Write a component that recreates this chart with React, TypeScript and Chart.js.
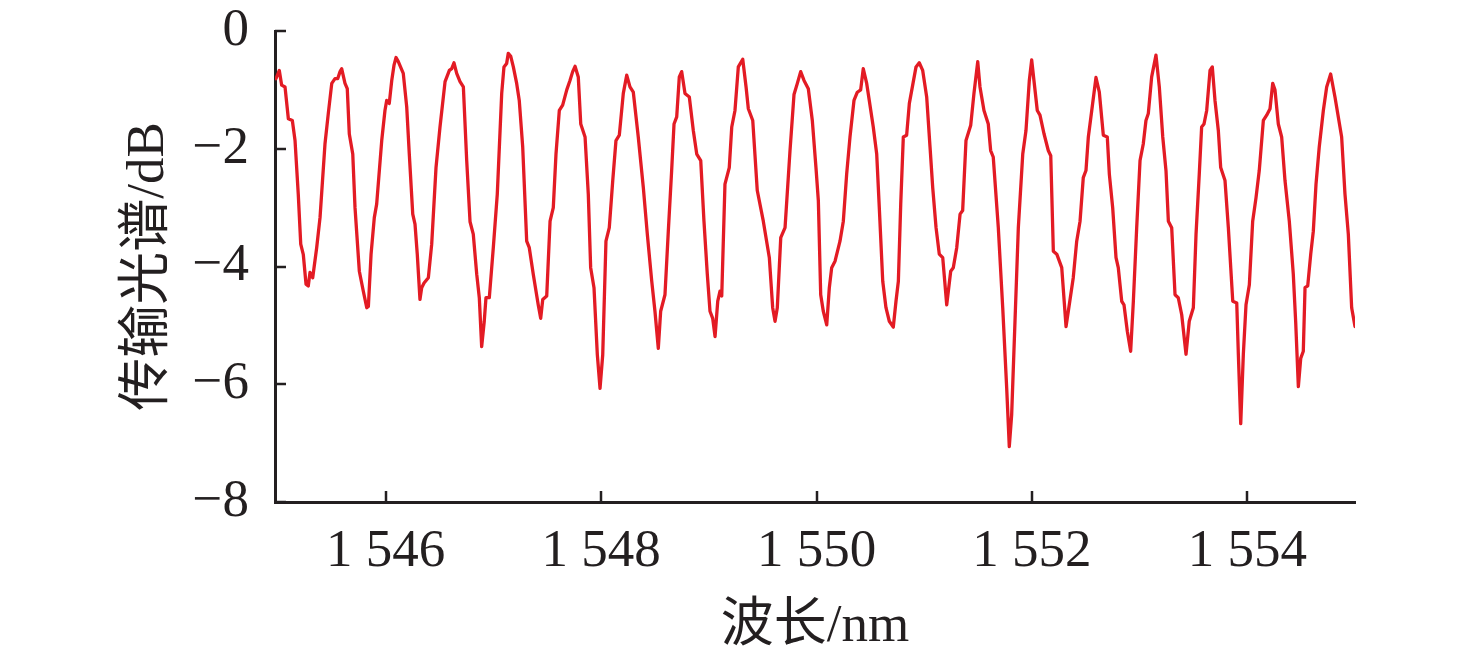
import { useEffect, useRef } from "react";
import { Chart, registerables } from "chart.js";

Chart.register(...registerables);

// Wavelength (nm) of each sample
const wavelengths = [
  1544.981, 1545.012, 1545.034, 1545.065, 1545.096, 1545.133, 1545.158, 1545.188, 1545.211, 1545.235,
  1545.260, 1545.281, 1545.297, 1545.322, 1545.359, 1545.390, 1545.436, 1545.467, 1545.499, 1545.529,
  1545.554, 1545.576, 1545.591, 1545.622, 1545.643, 1545.662, 1545.694, 1545.715, 1545.755, 1545.792,
  1545.824, 1545.839, 1545.864, 1545.894, 1545.916, 1545.963, 1545.993, 1546.009, 1546.033, 1546.056,
  1546.077, 1546.096, 1546.117, 1546.163, 1546.195, 1546.219, 1546.251, 1546.272, 1546.293, 1546.318,
  1546.334, 1546.356, 1546.396, 1546.427, 1546.467, 1546.504, 1546.551, 1546.591, 1546.613, 1546.634,
  1546.659, 1546.690, 1546.721, 1546.752, 1546.783, 1546.813, 1546.845, 1546.869, 1546.891, 1546.915,
  1546.931, 1546.962, 1546.999, 1547.036, 1547.077, 1547.098, 1547.123, 1547.138, 1547.161, 1547.185,
  1547.216, 1547.240, 1547.272, 1547.309, 1547.333, 1547.370, 1547.416, 1547.439, 1547.458, 1547.495,
  1547.526, 1547.556, 1547.581, 1547.612, 1547.643, 1547.681, 1547.711, 1547.736, 1547.758, 1547.788,
  1547.811, 1547.851, 1547.881, 1547.903, 1547.934, 1547.965, 1547.990, 1548.015, 1548.045, 1548.076,
  1548.108, 1548.138, 1548.169, 1548.206, 1548.238, 1548.268, 1548.299, 1548.345, 1548.392, 1548.429,
  1548.470, 1548.500, 1548.531, 1548.553, 1548.593, 1548.624, 1548.655, 1548.677, 1548.702, 1548.726,
  1548.748, 1548.779, 1548.819, 1548.856, 1548.888, 1548.925, 1548.955, 1548.986, 1549.011, 1549.036,
  1549.058, 1549.083, 1549.104, 1549.120, 1549.150, 1549.190, 1549.213, 1549.243, 1549.274, 1549.315,
  1549.346, 1549.367, 1549.408, 1549.450, 1549.506, 1549.562, 1549.593, 1549.615, 1549.636, 1549.668,
  1549.708, 1549.754, 1549.791, 1549.822, 1549.853, 1549.884, 1549.924, 1549.961, 1549.995, 1550.017,
  1550.039, 1550.063, 1550.095, 1550.119, 1550.141, 1550.172, 1550.218, 1550.249, 1550.280, 1550.311,
  1550.348, 1550.379, 1550.410, 1550.434, 1550.466, 1550.490, 1550.527, 1550.559, 1550.583, 1550.615,
  1550.645, 1550.676, 1550.713, 1550.738, 1550.760, 1550.782, 1550.806, 1550.837, 1550.862, 1550.893,
  1550.924, 1550.954, 1550.986, 1551.023, 1551.054, 1551.079, 1551.110, 1551.140, 1551.172, 1551.209,
  1551.246, 1551.270, 1551.302, 1551.333, 1551.357, 1551.388, 1551.432, 1551.462, 1551.497, 1551.518,
  1551.555, 1551.595, 1551.617, 1551.641, 1551.688, 1551.729, 1551.766, 1551.790, 1551.812, 1551.843,
  1551.874, 1551.915, 1551.945, 1551.976, 1551.998, 1552.019, 1552.050, 1552.075, 1552.113, 1552.152,
  1552.175, 1552.199, 1552.231, 1552.277, 1552.317, 1552.347, 1552.384, 1552.416, 1552.447, 1552.477,
  1552.502, 1552.524, 1552.564, 1552.595, 1552.626, 1552.663, 1552.700, 1552.719, 1552.750, 1552.781,
  1552.802, 1552.834, 1552.855, 1552.886, 1552.917, 1552.942, 1552.973, 1553.004, 1553.034, 1553.059,
  1553.081, 1553.112, 1553.152, 1553.183, 1553.215, 1553.245, 1553.267, 1553.298, 1553.329, 1553.359,
  1553.391, 1553.431, 1553.461, 1553.499, 1553.524, 1553.554, 1553.576, 1553.598, 1553.623, 1553.654,
  1553.675, 1553.700, 1553.731, 1553.753, 1553.793, 1553.824, 1553.865, 1553.902, 1553.917, 1553.939,
  1553.963, 1553.988, 1554.019, 1554.050, 1554.081, 1554.111, 1554.149, 1554.180, 1554.211, 1554.236,
  1554.257, 1554.288, 1554.319, 1554.350, 1554.390, 1554.427, 1554.449, 1554.474, 1554.496, 1554.520,
  1554.536, 1554.561, 1554.589, 1554.613, 1554.638, 1554.668, 1554.706, 1554.737, 1554.774, 1554.814,
  1554.845, 1554.876, 1554.907, 1554.938, 1554.969, 1555.000,
];

// Transmission spectrum (dB) at each wavelength
const transmission = [
  -0.81, -0.67, -0.92, -0.95, -1.49, -1.52, -1.86, -2.77, -3.62, -3.80,
  -4.30, -4.33, -4.10, -4.19, -3.68, -3.17, -1.92, -1.40, -0.89, -0.81,
  -0.81, -0.69, -0.64, -0.89, -0.98, -1.75, -2.09, -3.00, -4.08, -4.42,
  -4.70, -4.68, -3.79, -3.17, -2.94, -1.86, -1.35, -1.18, -1.23, -0.84,
  -0.58, -0.45, -0.52, -0.72, -1.29, -2.09, -3.11, -3.28, -3.79, -4.56,
  -4.36, -4.28, -4.19, -3.62, -2.32, -1.63, -0.86, -0.67, -0.64, -0.54,
  -0.72, -0.86, -0.95, -2.20, -3.24, -3.45, -4.13, -4.53, -5.36, -4.93,
  -4.53, -4.53, -3.68, -2.77, -1.06, -0.61, -0.55, -0.38, -0.43, -0.61,
  -0.89, -1.18, -1.97, -3.57, -3.68, -4.13, -4.65, -4.88, -4.56, -4.50,
  -3.23, -3.00, -2.09, -1.35, -1.26, -1.00, -0.84, -0.69, -0.60, -0.78,
  -1.58, -1.80, -2.77, -4.02, -4.36, -5.50, -6.07, -5.50, -3.57, -3.34,
  -2.54, -1.86, -1.77, -1.06, -0.75, -0.95, -1.04, -1.80, -2.66, -3.45,
  -4.25, -4.76, -5.39, -4.76, -4.48, -3.40, -2.37, -1.58, -1.46, -0.78,
  -0.69, -1.06, -1.12, -1.69, -2.09, -2.20, -3.23, -4.13, -4.76, -4.88,
  -5.19, -4.59, -4.42, -4.50, -2.60, -2.32, -1.63, -1.35, -0.61, -0.48,
  -0.95, -1.32, -1.52, -2.71, -3.23, -3.85, -4.70, -4.93, -4.70, -3.51,
  -3.34, -2.03, -1.08, -0.89, -0.69, -0.84, -0.98, -1.52, -2.32, -2.88,
  -4.48, -4.76, -4.99, -4.36, -4.02, -3.91, -3.57, -3.23, -2.43, -1.80,
  -1.18, -1.04, -1.00, -0.64, -0.89, -1.18, -1.63, -2.09, -3.00, -4.25,
  -4.70, -4.93, -5.03, -4.59, -4.25, -2.94, -1.80, -1.77, -1.23, -0.92,
  -0.61, -0.54, -0.67, -1.12, -1.97, -2.66, -3.34, -3.79, -3.85, -4.65,
  -4.08, -4.02, -3.68, -3.11, -3.05, -1.86, -1.60, -1.06, -0.52, -0.95,
  -1.35, -1.58, -2.03, -2.14, -3.34, -4.70, -6.07, -7.06, -6.52, -4.93,
  -3.34, -2.09, -1.69, -0.84, -0.49, -0.84, -1.35, -1.43, -1.75, -2.03,
  -2.12, -3.74, -3.79, -4.02, -5.02, -4.65, -4.19, -3.57, -3.23, -2.49,
  -2.37, -1.80, -1.23, -0.79, -1.04, -1.77, -1.80, -2.43, -3.00, -3.85,
  -4.02, -4.59, -4.65, -5.10, -5.44, -4.59, -3.34, -2.20, -1.92, -1.52,
  -1.40, -0.78, -0.41, -0.95, -1.80, -2.37, -3.23, -3.34, -4.48, -4.53,
  -4.82, -5.49, -4.93, -4.70, -3.45, -2.43, -1.63, -1.58, -1.35, -0.67,
  -0.61, -1.18, -1.69, -2.32, -2.54, -3.34, -4.59, -4.62, -5.50, -6.67,
  -5.50, -4.65, -4.31, -3.23, -2.83, -2.37, -1.52, -1.43, -1.32, -0.89,
  -1.00, -1.58, -1.80, -2.54, -3.23, -4.13, -4.93, -6.04, -5.56, -5.44,
  -4.36, -4.33, -3.79, -3.40, -2.60, -1.97, -1.35, -0.95, -0.73, -1.12,
  -1.46, -1.80, -2.77, -3.45, -4.70, -5.02,
];

const xTicks = [1546, 1548, 1550, 1552, 1554];
const yTicks = [0, -2, -4, -6, -8];
const xRange = [1544.972, 1555.0];
const yRange = [-8, 0];
const xTitle = "波长/nm";
const yTitle = "传输光谱/dB";

const AXIS_COLOR = "#231f20";
const LINE_COLOR = "#e31b24";
const FONT = "'Liberation Serif', 'Times New Roman', 'Noto Sans CJK SC', serif";

const fmtX = (v: number) => {
  const s = String(v);
  return s.slice(0, 1) + " " + s.slice(1);
};
const fmtY = (v: number) => (v < 0 ? "\u2212" + Math.abs(v) : String(v));

const innerTicks = {
  id: "innerTicks",
  afterDraw(chart: any) {
    const { ctx, chartArea, scales } = chart;
    const len = 11;
    ctx.save();
    ctx.strokeStyle = AXIS_COLOR;
    ctx.lineWidth = 2.5;
    for (const v of xTicks) {
      const px = Math.round(scales.x.getPixelForValue(v));
      ctx.beginPath();
      ctx.moveTo(px, chartArea.bottom);
      ctx.lineTo(px, chartArea.bottom - len);
      ctx.stroke();
    }
    for (const v of yTicks) {
      const py = Math.round(scales.y.getPixelForValue(v));
      ctx.beginPath();
      ctx.moveTo(chartArea.left, py);
      ctx.lineTo(chartArea.left + len, py);
      ctx.stroke();
    }
    ctx.restore();
  },
};

export default function App() {
  const ref = useRef<HTMLCanvasElement | null>(null);

  useEffect(() => {
    if (!ref.current) return;
    const points = wavelengths.map((x, i) => ({ x, y: transmission[i] }));
    const chart = new Chart(ref.current, {
      type: "line",
      data: {
        datasets: [
          {
            data: points,
            borderColor: LINE_COLOR,
            borderWidth: 3.3,
            borderJoinStyle: "round",
            borderCapStyle: "round",
            pointRadius: 0,
            tension: 0,
            fill: false,
          },
        ],
      },
      options: {
        responsive: false,
        animation: false,
        devicePixelRatio: 1,
        layout: { padding: { top: 31, right: 121, left: 0, bottom: 0 } },
        plugins: { legend: { display: false }, tooltip: { enabled: false } },
        scales: {
          x: {
            type: "linear",
            min: xRange[0],
            max: xRange[1],
            afterBuildTicks: (s: any) => {
              s.ticks = xTicks.map((value) => ({ value }));
            },
            afterFit: (s: any) => {
              s.height = 161;
              s.paddingLeft = 0;
              s.paddingRight = 0;
            },
            grid: { display: true, drawOnChartArea: false, drawTicks: false },
            border: { display: true, color: AXIS_COLOR, width: 3 },
            ticks: {
              autoSkip: false,
              maxRotation: 0,
              padding: 18,
              color: AXIS_COLOR,
              font: { family: FONT, size: 53 },
              callback: (v: any) => fmtX(Number(v)),
            },
            title: {
              display: true,
              text: xTitle,
              color: AXIS_COLOR,
              font: { family: FONT, size: 53 },
              padding: { top: 0, bottom: 4 },
            },
          },
          y: {
            type: "linear",
            min: yRange[0],
            max: yRange[1],
            afterBuildTicks: (s: any) => {
              s.ticks = yTicks.map((value) => ({ value }));
            },
            afterFit: (s: any) => {
              s.width = 275;
              s.paddingTop = 0;
              s.paddingBottom = 0;
            },
            grid: { display: true, drawOnChartArea: false, drawTicks: false },
            border: { display: true, color: AXIS_COLOR, width: 3 },
            ticks: {
              autoSkip: false,
              padding: 26,
              color: AXIS_COLOR,
              font: { family: FONT, size: 53 },
              callback: (v: any) => fmtY(Number(v)),
            },
            title: {
              display: true,
              text: yTitle,
              color: AXIS_COLOR,
              font: { family: FONT, size: 53 },
              padding: { top: 117, bottom: 0 },
            },
          },
        },
      },
      plugins: [innerTicks],
    });
    return () => chart.destroy();
  }, []);

  return (
    <div
      style={{
        position: "fixed",
        left: 0,
        top: 0,
        width: 1476,
        height: 663,
        background: "#ffffff",
      }}
    >
      <canvas ref={ref} width={1476} height={663} />
    </div>
  );
}
